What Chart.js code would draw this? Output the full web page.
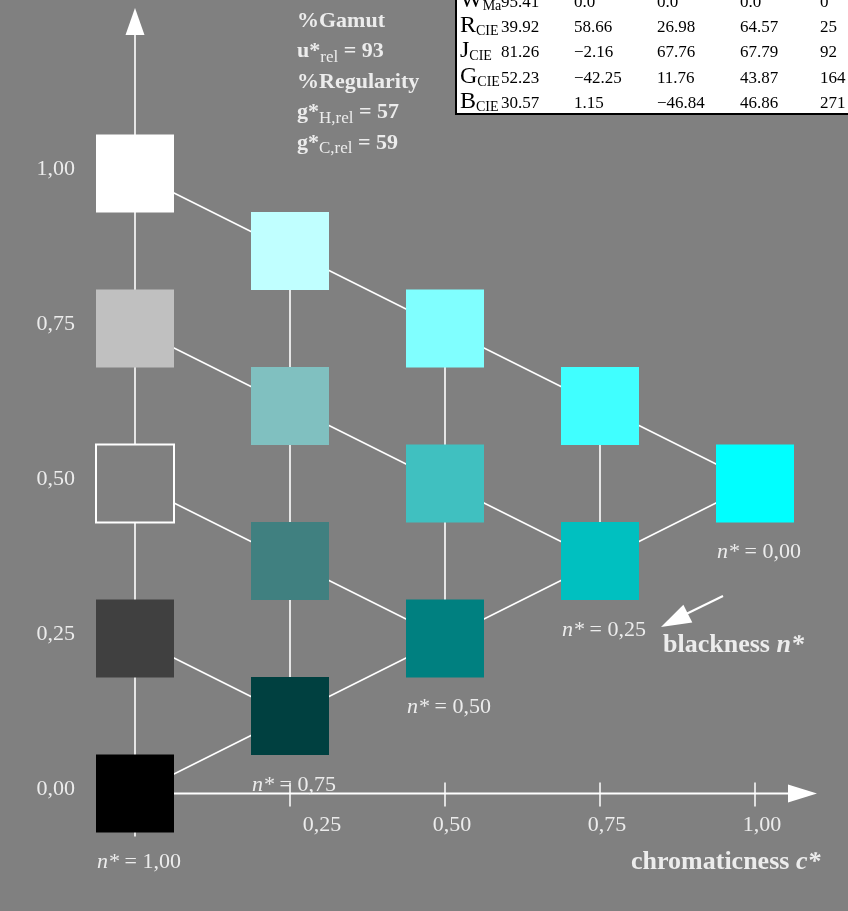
<!DOCTYPE html>
<html>
<head>
<meta charset="utf-8">
<script src="https://cdn.jsdelivr.net/npm/chart.js@4.4.1/dist/chart.umd.min.js"></script>
<style>
html,body{margin:0;padding:0;background:#808080;}
#wrap{width:848px;height:911px;}
canvas{display:block;}
</style>
</head>
<body>
<div id="wrap"><canvas id="c" width="848" height="911"></canvas></div>
<script>
// ---- data ----
const squareC = [0, 0, 0, 0, 0, 0.25, 0.25, 0.25, 0.25, 0.5, 0.5, 0.5, 0.75, 0.75, 1.0];
const squareV = [1.0, 0.75, 0.5, 0.25, 0.0, 0.875, 0.625, 0.375, 0.125, 0.75, 0.5, 0.25, 0.625, 0.375, 0.5];
const squareN = [0, 0.25, 0.5, 0.75, 1.0, 0, 0.25, 0.5, 0.75, 0, 0.25, 0.5, 0, 0.25, 0];
const squareColors = ['#ffffff', '#c0c0c0', '#808080', '#404040', '#000000',
                      '#c0ffff', '#80c0c0', '#408080', '#004040',
                      '#80ffff', '#40c0c0', '#008080',
                      '#40ffff', '#00c0c0',
                      '#00ffff'];
const squareOutlined = [false, false, true, false, false, false, false, false, false, false, false, false, false, false, false];

const xTickValues = [0.25, 0.5, 0.75, 1.0];
const xTickLabels = ['0,25', '0,50', '0,75', '1,00'];
const yTickValues = [0, 0.25, 0.5, 0.75, 1.0];
const yTickLabels = ['0,00', '0,25', '0,50', '0,75', '1,00'];
const nLevels = [1.0, 0.75, 0.5, 0.25, 0];
const nLevelLabels = ['1,00', '0,75', '0,50', '0,25', '0,00'];

const statsGamut = '93';
const statsRegH = '57';
const statsRegC = '59';

const tableLetters = ['W', 'R', 'J', 'G', 'B'];
const tableSubs = ['Ma', 'CIE', 'CIE', 'CIE', 'CIE'];
const tableL = ['95.41', '39.92', '81.26', '52.23', '30.57'];
const tableA = ['0.0', '58.66', '\u22122.16', '\u221242.25', '1.15'];
const tableB = ['0.0', '26.98', '67.76', '11.76', '\u221246.84'];
const tableCab = ['0.0', '64.57', '67.79', '43.87', '46.86'];
const tableH = ['0', '25', '92', '164', '271'];

// ---- layout constants (pixels) ----
const W = 848, H = 911;
const PX = 620, OX = 135, OY = 793.5;
const TXT = '#ececec';
const SERIF = "'Liberation Serif','Times New Roman',serif";

// ---- build datasets ----
const squarePoints = squareC.map((c, i) => ({x: c, y: squareV[i]}));
const lineSets = [];
function pts(idx) { return idx.map(i => ({x: squareC[i], y: squareV[i]})); }
const allIdx = squareC.map((v, i) => i);
// constant blackness lines
[0, 0.25, 0.5, 0.75].forEach(n => {
  const idx = allIdx.filter(i => Math.abs(squareN[i] - n) < 1e-9).sort((a, b) => squareC[a] - squareC[b]);
  if (idx.length > 1) lineSets.push(pts(idx));
});
// constant chromaticness (vertical) lines
[0.25, 0.5, 0.75].forEach(c => {
  const idx = allIdx.filter(i => Math.abs(squareC[i] - c) < 1e-9).sort((a, b) => squareV[a] - squareV[b]);
  if (idx.length > 1) lineSets.push(pts(idx));
});
// full-colour edge (no whiteness)
lineSets.push(pts(allIdx.filter(i => Math.abs(squareC[i] + squareN[i] - 1) < 1e-9).sort((a, b) => squareC[a] - squareC[b])));

const datasets = [{
  label: 'squares',
  data: squarePoints,
  pointStyle: 'rect',
  pointRadius: 39 * Math.SQRT2,
  pointHoverRadius: 39 * Math.SQRT2,
  pointBackgroundColor: squareColors,
  pointBorderColor: '#ffffff',
  pointBorderWidth: squareOutlined.map(o => o ? 2 : 0),
  showLine: false,
  clip: false
}];
lineSets.forEach((d, k) => datasets.push({
  label: 'line' + k,
  data: d,
  showLine: true,
  borderColor: '#ffffff',
  borderWidth: 1.6,
  pointRadius: 0,
  fill: false,
  clip: false
}));

// ---- drawing helpers ----
function runs(ctx, x, y, list) {
  list.forEach(r => {
    ctx.font = r.f;
    ctx.fillText(r.t, x, y + (r.dy || 0));
    x += ctx.measureText(r.t).width;
  });
}
function arrowHead(ctx, tx, ty, dx, dy, len, half) {
  const l = Math.hypot(dx, dy); dx /= l; dy /= l;
  const bx = tx - dx * len, by = ty - dy * len;
  ctx.beginPath();
  ctx.moveTo(tx, ty);
  ctx.lineTo(bx - dy * half, by + dx * half);
  ctx.lineTo(bx + dy * half, by - dx * half);
  ctx.closePath();
  ctx.fill();
}

const decor = {
  id: 'decor',
  beforeDraw(chart) {
    const ctx = chart.ctx;
    ctx.save();
    ctx.fillStyle = '#808080';
    ctx.fillRect(0, 0, chart.width, chart.height);
    ctx.restore();
  },
  beforeDatasetsDraw(chart) {
    const ctx = chart.ctx, xs = chart.scales.x, ys = chart.scales.y;
    const x0 = xs.getPixelForValue(0), y0 = ys.getPixelForValue(0);
    ctx.save();
    ctx.strokeStyle = '#ffffff';
    ctx.fillStyle = '#ffffff';
    // y axis
    ctx.lineWidth = 1.6;
    ctx.beginPath();
    ctx.moveTo(x0, y0 + 43);
    ctx.lineTo(x0, 34);
    ctx.stroke();
    arrowHead(ctx, x0, 8, 0, -1, 27, 9.5);
    // x axis
    ctx.lineWidth = 2;
    ctx.beginPath();
    ctx.moveTo(x0, y0);
    ctx.lineTo(790, y0);
    ctx.stroke();
    arrowHead(ctx, 817, y0, 1, 0, 29, 9);
    // ticks
    ctx.lineWidth = 1.5;
    xTickValues.forEach(v => {
      const px = xs.getPixelForValue(v);
      ctx.beginPath();
      ctx.moveTo(px, y0 - 11);
      ctx.lineTo(px, y0 + 13);
      ctx.stroke();
    });
    ctx.restore();
  },
  afterDatasetsDraw(chart) {
    const ctx = chart.ctx, xs = chart.scales.x, ys = chart.scales.y;
    ctx.save();
    ctx.fillStyle = TXT;
    ctx.textBaseline = 'alphabetic';
    // x tick labels
    ctx.font = '22px ' + SERIF;
    ctx.textAlign = 'center';
    const shift = [32, 7, 7, 7];
    xTickValues.forEach((v, i) => {
      ctx.fillText(xTickLabels[i], xs.getPixelForValue(v) + shift[i], 831);
    });
    // y tick labels
    ctx.textAlign = 'right';
    yTickValues.forEach((v, i) => {
      ctx.fillText(yTickLabels[i], 75, ys.getPixelForValue(v) + 1);
    });
    // n* labels at the end of each blackness line
    ctx.textAlign = 'left';
    nLevels.forEach((n, k) => {
      let best = -1;
      squareN.forEach((sn, i) => {
        if (Math.abs(sn - n) < 1e-9 && (best < 0 || squareC[i] > squareC[best])) best = i;
      });
      const px = xs.getPixelForValue(squareC[best]) - 38;
      const py = ys.getPixelForValue(squareV[best]) + 74.5;
      runs(ctx, px, py, [
        {t: 'n*', f: 'italic 22px ' + SERIF},
        {t: ' = ' + nLevelLabels[k], f: '22px ' + SERIF}
      ]);
    });
    // axis titles
    runs(ctx, 631, 869, [
      {t: 'chromaticness ', f: 'bold 26px ' + SERIF},
      {t: 'c*', f: 'bold italic 26px ' + SERIF}
    ]);
    runs(ctx, 663, 652, [
      {t: 'blackness ', f: 'bold 26px ' + SERIF},
      {t: 'n*', f: 'bold italic 26px ' + SERIF}
    ]);
    // blackness arrow
    ctx.strokeStyle = '#ffffff';
    ctx.fillStyle = '#ffffff';
    ctx.lineWidth = 2;
    ctx.beginPath();
    ctx.moveTo(723, 596);
    ctx.lineTo(680, 617);
    ctx.stroke();
    arrowHead(ctx, 661, 627, -62, 31, 30, 10);
    // stats block
    ctx.fillStyle = TXT;
    const B = 'bold 22px ' + SERIF, S = '17px ' + SERIF;
    runs(ctx, 297, 26.5, [{t: '%Gamut', f: B}]);
    runs(ctx, 297, 57, [{t: 'u*', f: B}, {t: 'rel', f: S, dy: 4.5}, {t: ' = ' + statsGamut, f: B}]);
    runs(ctx, 297, 87.5, [{t: '%Regularity', f: B}]);
    runs(ctx, 297, 118, [{t: 'g*', f: B}, {t: 'H,rel', f: S, dy: 4.5}, {t: ' = ' + statsRegH, f: B}]);
    runs(ctx, 297, 148.5, [{t: 'g*', f: B}, {t: 'C,rel', f: S, dy: 4.5}, {t: ' = ' + statsRegC, f: B}]);
    // table
    ctx.fillStyle = '#ffffff';
    ctx.fillRect(456, -5, 400, 119);
    ctx.strokeStyle = '#000000';
    ctx.lineWidth = 2;
    ctx.strokeRect(456, -5, 400, 119);
    ctx.fillStyle = '#000000';
    const cols = [tableL, tableA, tableB, tableCab, tableH];
    const colX = [501, 574, 657, 740, 820];
    tableLetters.forEach((L, r) => {
      const base = 7 + r * 25.2;
      runs(ctx, 460, base, [{t: L, f: '24px ' + SERIF}, {t: tableSubs[r], f: '14px ' + SERIF, dy: 3}]);
      ctx.font = '17px ' + SERIF;
      cols.forEach((col, k) => ctx.fillText(col[r], colX[k], base));
    });
    ctx.restore();
  }
};

new Chart(document.getElementById('c'), {
  type: 'scatter',
  data: {datasets},
  options: {
    responsive: false,
    animation: false,
    events: [],
    layout: {padding: 0, autoPadding: false},
    plugins: {legend: {display: false}, tooltip: {enabled: false}},
    scales: {
      x: {type: 'linear', display: false, min: -OX / PX, max: (W - OX) / PX},
      y: {type: 'linear', display: false, min: -(H - OY) / PX, max: OY / PX}
    }
  },
  plugins: [decor]
});
</script>
</body>
</html>
